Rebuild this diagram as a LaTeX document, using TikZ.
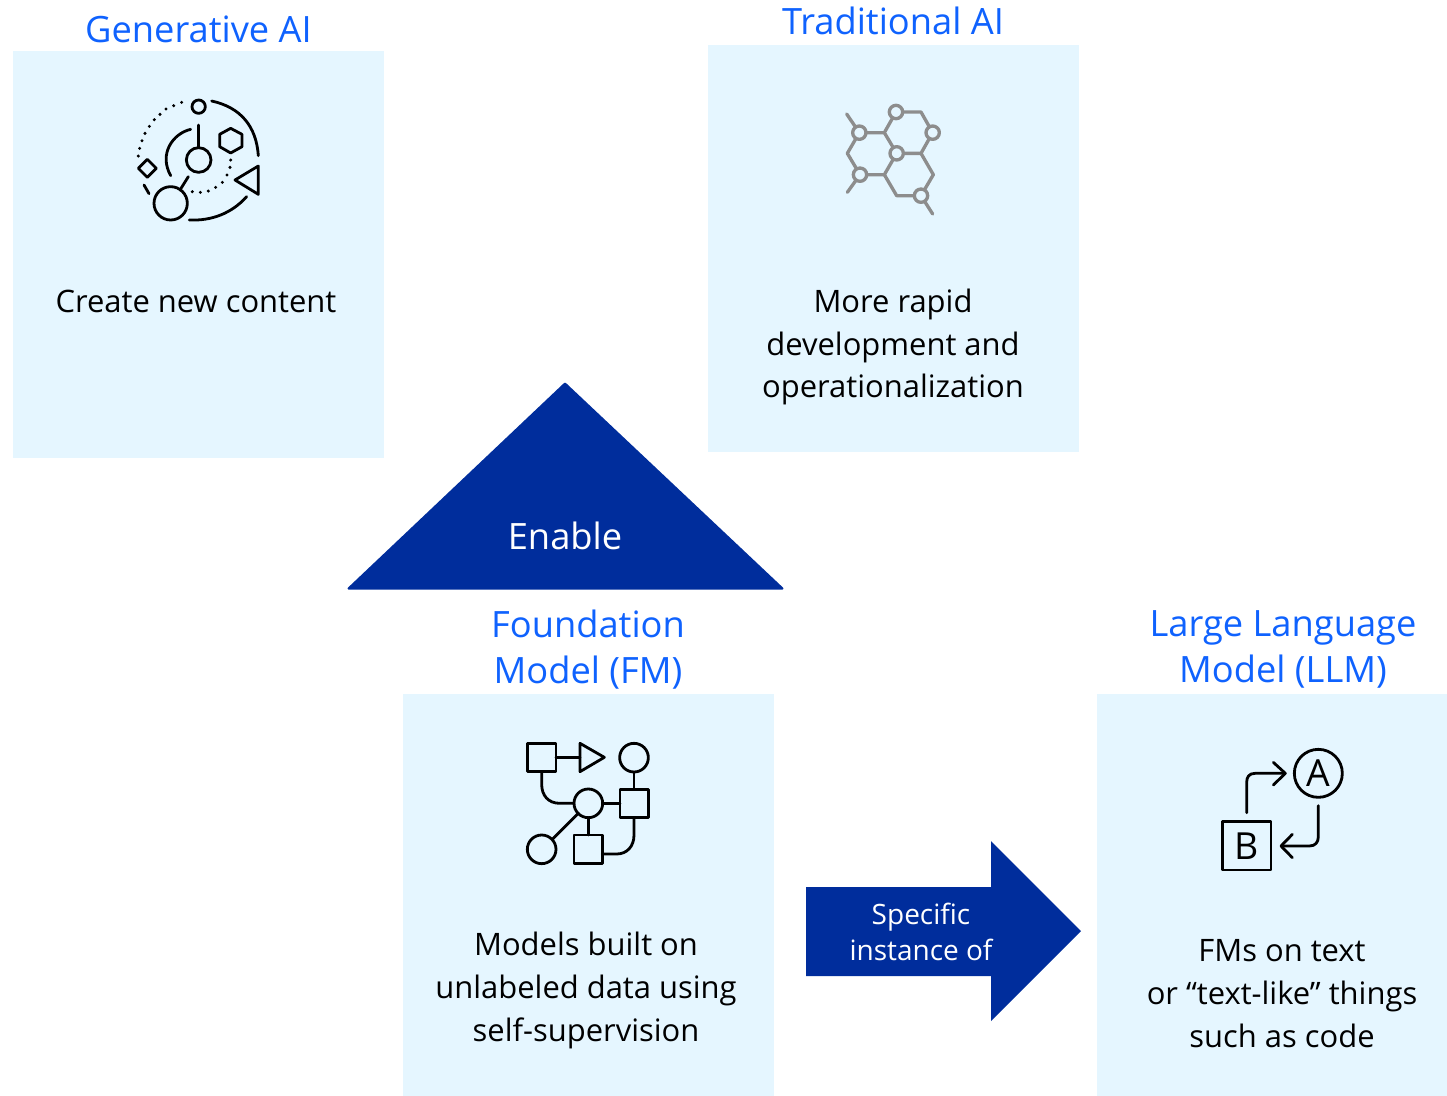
\documentclass[tikz,border=0pt]{standalone}
\usepackage{fontspec}
\setmainfont{Open Sans}
\definecolor{panel}{HTML}{E5F6FF}
\definecolor{ibmblue}{HTML}{0F62FE}
\definecolor{deep}{HTML}{002D9C}
\definecolor{molgray}{HTML}{8D8D8D}
\newcommand{\bodyfont}{\fontsize{23.2}{32.2}\selectfont}
\newcommand{\titlefont}{\fontsize{27.2}{34.5}\selectfont}
\tikzset{
  panelbox/.style={fill=panel,draw=none},
  title/.style={font=\titlefont,text=ibmblue,align=center,inner sep=0pt},
  body/.style={font=\bodyfont,text=black,align=center,inner sep=0pt},
  icon/.style={draw=black,line width=2.1pt,line cap=round,line join=round},
  molecule/.style={draw=molgray,line width=2.5pt,line cap=round,line join=round},
  atom/.style={molecule,fill=panel},
  solidshape/.style={fill=deep,draw=deep,line width=1.5pt,line join=round},
  zoomed/.style={x=0.25pt,y=-0.25pt}
}
\begin{document}
\begin{tikzpicture}[x=0.75pt,y=-0.75pt]
\useasboundingbox (0,0) rectangle (1447,1096);
% panels
\fill[panelbox] (13,51) rectangle (384,458);
\fill[panelbox] (708,45) rectangle (1079,452);
\fill[panelbox] (403,694) rectangle (774,1096);
\fill[panelbox] (1097,694) rectangle (1447,1096);
% solid shapes
\draw[solidshape] (565,383.5) -- (782.5,588.5) -- (348.5,588.5) -- cycle;
\fill[deep] (806,887) -- (991,887) -- (991,841) -- (1081,931) -- (991,1021) -- (991,976) -- (806,976) -- cycle;
% titles
\node[title] (tgen) at (198.5,29.5) {Generative AI};
\node[title] (ttrad) at (893,21) {Traditional AI};
\node[title] (tfm) at (588,649.5) {Foundation\\Model (FM)};
\node[title] (tllm) at (1283,649.5) {Large Language\\Model (LLM)};
% bodies
\node[body] (bgen) at (196,301.5) {Create new content};
\node[body] (btrad) at (893,347) {More rapid\\development and\\operationalization};
\node[body] (bfm) at (586,990.5) {Models built on\\unlabeled data using\\self-supervision};
\node[body] (bllm) at (1282,993.5) {FMs on text\\or “text-like” things\\such as code};
\node[font=\titlefont,text=white,inner sep=0pt] (enable) at (565,536) {Enable};
\node[font=\fontsize{21}{27.5}\selectfont,text=white,align=center,inner sep=0pt] (inst) at (921,932) {Specific\\instance of};
% generative AI icon
\begin{scope}[shift={(120,85)},zoomed]
\draw[icon] (236,65) circle[radius=20];
\draw[icon] (236,225) circle[radius=37];
\draw[icon] (152,355) circle[radius=50];
\draw[icon] (236,120) -- (236,188);
\draw[icon] (180,315) -- (205,275);
\draw[icon] (275,48) .. controls (362,67) and (409,124) .. (415,212);
\draw[icon] (208,405) .. controls (275,408) and (335,385) .. (380,335);
\draw[icon] (72,300) -- (87,326);
\draw[icon] (212,133) .. controls (160,145) and (115,205) .. (152,272);
\draw[icon] (332,130) -- (366,148) -- (366,185) -- (332,204) -- (299,185) -- (299,148) -- cycle;
\draw[icon] (82,223) -- (109,250) -- (82,277) -- (55,250) -- cycle;
\draw[icon] (415,243) -- (415,328) -- (345,285) -- cycle;
\foreach \p in {(185,52),(161,62),(138,72),(120,88),(103,104),(88,124),(75,145),(66,167),(59,190),(55,213)} {
  \fill \p circle[radius=5];
}
\foreach \p in {(332,225),(330,247),(321,270),(307,292),(287,307),(265,318),(241,322),(217,320)} {
  \fill \p circle[radius=5];
}
\end{scope}
% traditional AI icon
\begin{scope}[shift={(830,90)},zoomed]
\draw[molecule] (50,72) -- (88,128) -- (163,128) -- (198,66) -- (273,66) -- (308,128) -- (273,190) -- (200,190) -- (163,128);
\draw[molecule] (200,190) -- (163,254) -- (90,254) -- (52,190) -- (88,128);
\draw[molecule] (90,254) -- (52,307);
\draw[molecule] (163,254) -- (200,317) -- (273,317) -- (310,254) -- (273,190);
\draw[molecule] (273,317) -- (308,372);
\foreach \p in {(198,66),(308,128),(88,128),(200,190),(90,254),(273,317)} {
  \draw[atom] \p circle[radius=20];
}
\end{scope}
% foundation model icon
\begin{scope}[shift={(510,730)},zoomed]
\draw[icon] (53,40) rectangle (138,125);
\draw[icon] (210,40) -- (283,82) -- (210,125) -- cycle;
\draw[icon] (372,83) circle[radius=43];
\draw[icon] (330,178) rectangle (415,263);
\draw[icon] (235,220) circle[radius=43];
\draw[icon] (95,358) circle[radius=43];
\draw[icon] (192,315) rectangle (277,400);
\draw[icon] (138,82) -- (210,82);
\draw[icon] (95,125) -- (95,162) .. controls (95,197) and (115,220) .. (150,220) -- (192,220);
\draw[icon] (278,220) -- (330,220);
\draw[icon] (372,126) -- (372,178);
\draw[icon] (235,263) -- (235,315);
\draw[icon] (372,263) -- (372,315) .. controls (372,350) and (350,372) .. (320,372) -- (277,372);
\draw[icon] (205,250) -- (127,328);
\end{scope}
% large language model icon
\begin{scope}[shift={(1205,735)},zoomed]
\draw[icon] (340,115) circle[radius=72];
\node[font=\fontsize{28}{28}\selectfont,inner sep=0pt] (la) at (340,115) {A};
\draw[icon] (52,260) rectangle (198,405);
\node[font=\fontsize{28}{28}\selectfont,inner sep=0pt] (lb) at (125,332) {B};
\draw[icon] (125,233) -- (125,142) .. controls (125,125) and (133,115) .. (150,115) -- (240,115);
\draw[icon] (205,82) -- (241,115) -- (205,150);
\draw[icon] (340,212) -- (340,305) .. controls (340,323) and (330,333) .. (313,333) -- (228,333);
\draw[icon] (262,298) -- (228,333) -- (262,368);
\end{scope}
\end{tikzpicture}
\end{document}
